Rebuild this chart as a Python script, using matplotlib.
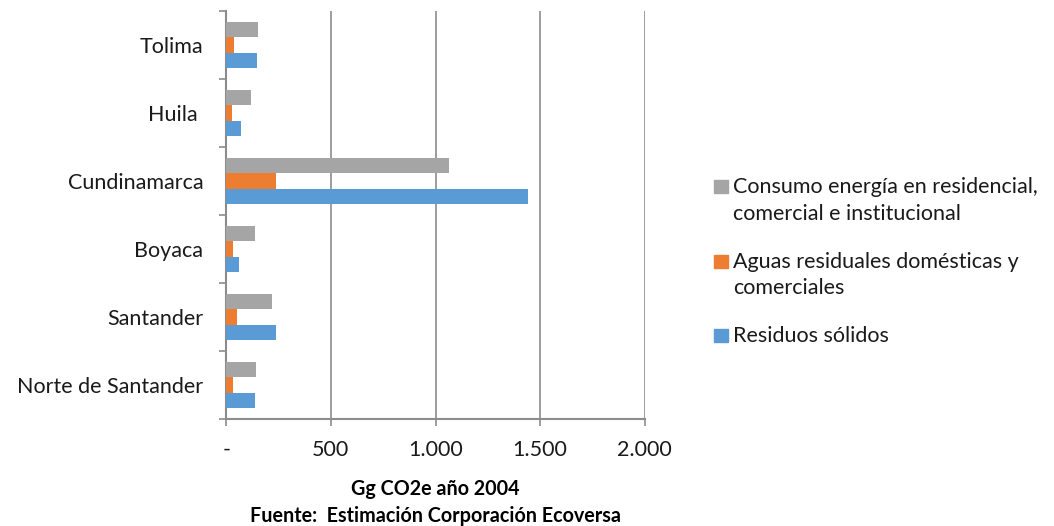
import numpy as np
import matplotlib.pyplot as plt
from matplotlib.patches import Rectangle
from matplotlib.ticker import FuncFormatter, FixedLocator

plt.rcParams['font.family'] = ['Lato', 'DejaVu Sans']

# Categories bottom to top
regions = ["Norte de Santander", "Santander", "Boyaca", "Cundinamarca", "Huila ", "Tolima"]

residuos = [138, 237, 61, 1442, 70, 147]
aguas = [32, 51, 32, 237, 27, 37]
energia = [142, 218, 138, 1065, 118, 151]

labels = ["Residuos sólidos",
          "Aguas residuales domésticas y\ncomerciales",
          "Consumo energía en residencial,\ncomercial e institucional"]
colors = ["#5B9BD5", "#ED7D31", "#A5A5A5"]

W, H = 1054, 526
fig = plt.figure(figsize=(W / 100, H / 100), dpi=100)
ax = fig.add_axes([226.3 / W, 1 - 419 / H, (644.7 - 226.3) / W, (419 - 11) / H])

y = np.arange(len(regions))
h = 0.225
for i, (vals, col) in enumerate(zip([residuos, aguas, energia], colors)):
    ax.barh(y + (i - 1) * h, vals, height=h, color=col, zorder=3)

ax.set_xlim(0, 2000)
ax.set_ylim(-0.5, len(regions) - 0.5)

ax.set_xticks([0, 500, 1000, 1500, 2000])
ax.xaxis.set_major_formatter(FuncFormatter(
    lambda v, p: "-" if v == 0 else f"{int(v):,}".replace(",", ".")))
ax.grid(axis="x", color="#8C8C8C", linewidth=1.2, zorder=0)

ax.set_yticks(y)
ax.set_yticklabels(regions)
ax.yaxis.set_minor_locator(FixedLocator(np.arange(-0.5, len(regions), 1)))
ax.tick_params(axis="y", which="major", length=0, pad=16.5, labelsize=15.5, colors="#1a1a1a")
ax.tick_params(axis="y", which="minor", length=5, width=1.2, color="#8C8C8C")
ax.tick_params(axis="x", which="major", length=5, width=1.2, color="#8C8C8C",
               pad=10, labelsize=15.5, labelcolor="#1a1a1a")

for s in ["top", "right"]:
    ax.spines[s].set_visible(False)
for s in ["left", "bottom"]:
    ax.spines[s].set_color("#8C8C8C")
    ax.spines[s].set_linewidth(1.5)

ax.set_xlabel("Gg CO2e año 2004\nFuente:  Estimación Corporación Ecoversa",
              fontsize=14.2, fontweight="bold", linespacing=1.45, labelpad=14)

# legend drawn by hand so the swatch sits on the first line (Excel style)
baselines = [342, 268, 193]   # pixel baseline of the first line of each entry
line_step = 26.5
for lab, col, base in zip(labels, colors, baselines):
    fig.patches.append(Rectangle((714 / W, 1 - base / H), 14 / W, 13 / H,
                                 transform=fig.transFigure, color=col))
    for k, line in enumerate(lab.split("\n")):
        fig.text(733 / W, 1 - (base + k * line_step) / H, line,
                 fontsize=15.5, va="baseline", ha="left", color="#1a1a1a")

fig.savefig("out.png", dpi=100)
